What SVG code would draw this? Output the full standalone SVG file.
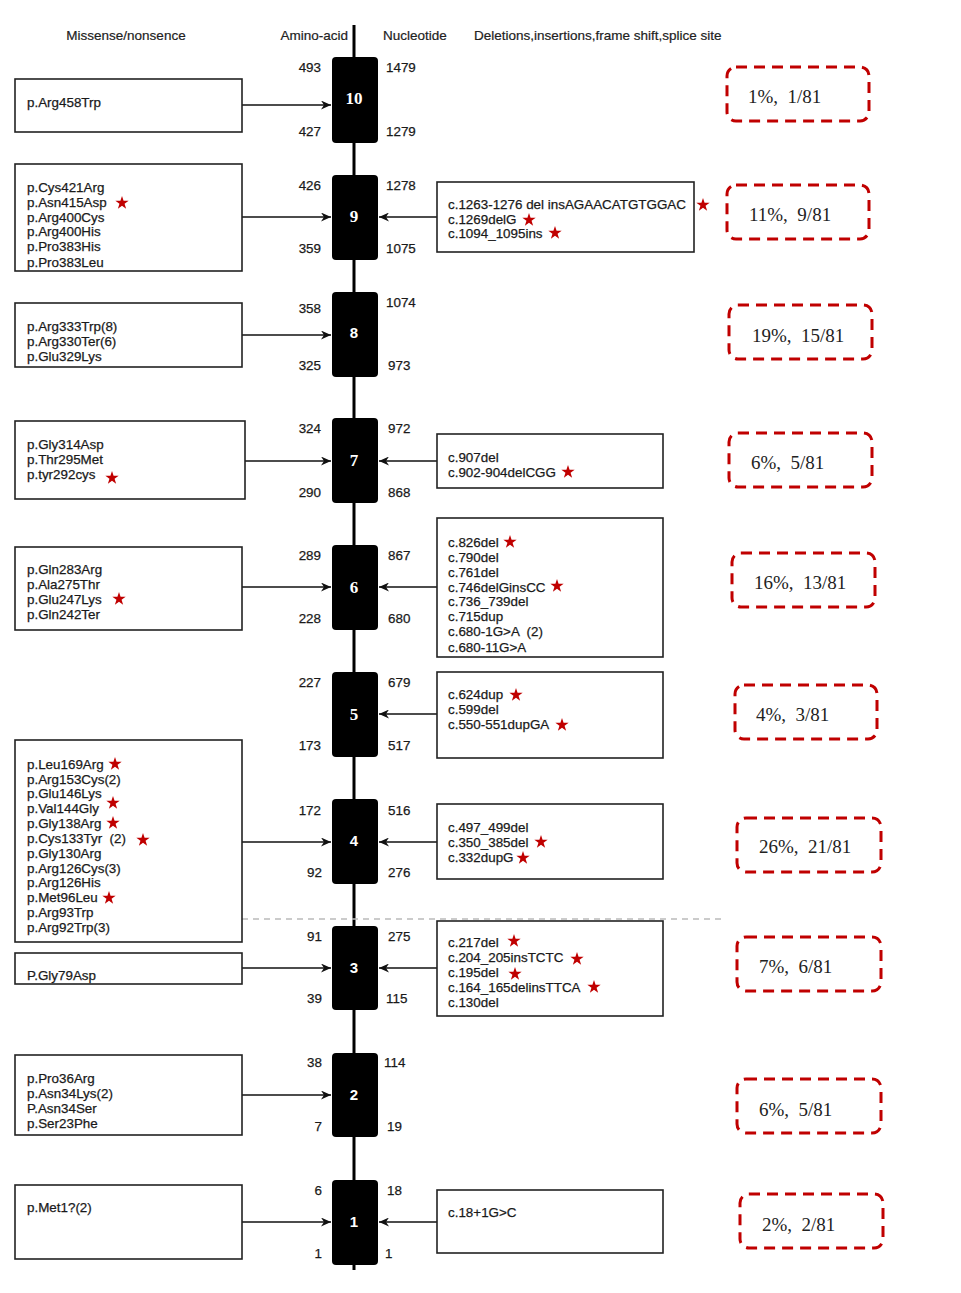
<svg xmlns="http://www.w3.org/2000/svg" width="961" height="1293" viewBox="0 0 961 1293">
<style>
.hdr{font-family:"Liberation Sans",Arial,sans-serif;font-size:13.5px;fill:#222;stroke:#222;stroke-width:0.2}
.t{font-family:"Liberation Sans",Arial,sans-serif;font-size:13.4px;fill:#1a1a1a;stroke:#1a1a1a;stroke-width:0.25}
.num{font-family:"Liberation Sans",Arial,sans-serif;font-size:13.4px;fill:#1a1a1a;stroke:#1a1a1a;stroke-width:0.25}
.r{text-anchor:end}
.box{fill:#fff;stroke:#222;stroke-width:1.6}
.exon{fill:#000}
.el{font-family:"Liberation Serif","Times New Roman",serif;font-size:17px;font-weight:bold;fill:#fff;text-anchor:middle}
.els{font-family:"Liberation Sans",Arial,sans-serif;font-size:15px;font-weight:bold;fill:#fff;text-anchor:middle}
.pct{fill:none;stroke:#c00000;stroke-width:3;stroke-dasharray:11 7}
.pt{font-family:"Liberation Serif","Times New Roman",serif;font-size:19px;fill:#222}
.arr{stroke:#111;stroke-width:1.6;fill:none;marker-end:url(#ah)}
.star{fill:#c00000}
</style>
<defs>
<marker id="ah" markerWidth="11" markerHeight="9" refX="10" refY="4.5" orient="auto" markerUnits="userSpaceOnUse">
<path d="M0,0 L10,4.5 L0,9 L3,4.5 z" fill="#111"/>
</marker>
<path id="st" d="M0,-7 L1.587,-2.184 L6.657,-2.163 L2.568,0.834 L4.114,5.663 L0,2.7 L-4.114,5.663 L-2.568,0.834 L-6.657,-2.163 L-1.587,-2.184 Z"/>
</defs>
<rect width="961" height="1293" fill="#fff"/>

<g id="headers">
<text class="hdr" x="126" y="40" text-anchor="middle">Missense/nonsence</text>
<text class="hdr" x="348" y="40" text-anchor="end">Amino-acid</text>
<text class="hdr" x="383" y="40">Nucleotide</text>
<text class="hdr" x="474" y="40">Deletions,insertions,frame shift,splice site</text>
</g>

<g id="spine">
<line x1="354" y1="25" x2="354" y2="1270" stroke="#000" stroke-width="3"/>
<line x1="242" y1="919" x2="722" y2="919" stroke="#bbb" stroke-width="1.3" stroke-dasharray="6 5"/>
</g>

<g id="connectors">
<line class="arr" x1="242" y1="105" x2="331" y2="105"/>
<line class="arr" x1="242" y1="217" x2="331" y2="217"/>
<line class="arr" x1="437" y1="217" x2="379" y2="217"/>
<line class="arr" x1="242" y1="335" x2="331" y2="335"/>
<line class="arr" x1="245" y1="461" x2="331" y2="461"/>
<line class="arr" x1="437" y1="461" x2="379" y2="461"/>
<line class="arr" x1="242" y1="587" x2="331" y2="587"/>
<line class="arr" x1="437" y1="587" x2="379" y2="587"/>
<line class="arr" x1="437" y1="714" x2="379" y2="714"/>
<line class="arr" x1="242" y1="842" x2="331" y2="842"/>
<line class="arr" x1="437" y1="842" x2="379" y2="842"/>
<line class="arr" x1="242" y1="968" x2="331" y2="968"/>
<line class="arr" x1="437" y1="968" x2="379" y2="968"/>
<line class="arr" x1="242" y1="1095" x2="331" y2="1095"/>
<line class="arr" x1="242" y1="1222" x2="331" y2="1222"/>
<line class="arr" x1="437" y1="1222" x2="379" y2="1222"/>
</g>

<g id="exon10">
<rect class="exon" x="332" y="57" width="46" height="86" rx="4"/>
<text class="el" x="354" y="104">10</text>
<text class="num r" x="321" y="72">493</text><text class="num r" x="321" y="136">427</text>
<text class="num" x="386" y="72">1479</text><text class="num" x="386" y="136">1279</text>
</g>
<g id="exon9">
<rect class="exon" x="332" y="175" width="46" height="85" rx="4"/>
<text class="el" x="354" y="222">9</text>
<text class="num r" x="321" y="190">426</text><text class="num r" x="321" y="253">359</text>
<text class="num" x="386" y="190">1278</text><text class="num" x="386" y="253">1075</text>
</g>
<g id="exon8">
<rect class="exon" x="332" y="292" width="46" height="85" rx="4"/>
<text class="els" x="354" y="338">8</text>
<text class="num r" x="321" y="313">358</text><text class="num r" x="321" y="370">325</text>
<text class="num" x="386" y="307">1074</text><text class="num" x="388" y="370">973</text>
</g>
<g id="exon7">
<rect class="exon" x="332" y="418" width="46" height="85" rx="4"/>
<text class="el" x="354" y="466">7</text>
<text class="num r" x="321" y="433">324</text><text class="num r" x="321" y="497">290</text>
<text class="num" x="388" y="433">972</text><text class="num" x="388" y="497">868</text>
</g>
<g id="exon6">
<rect class="exon" x="332" y="545" width="46" height="85" rx="4"/>
<text class="el" x="354" y="593">6</text>
<text class="num r" x="321" y="560">289</text><text class="num r" x="321" y="623">228</text>
<text class="num" x="388" y="560">867</text><text class="num" x="388" y="623">680</text>
</g>
<g id="exon5">
<rect class="exon" x="332" y="672" width="46" height="85" rx="4"/>
<text class="el" x="354" y="720">5</text>
<text class="num r" x="321" y="687">227</text><text class="num r" x="321" y="750">173</text>
<text class="num" x="388" y="687">679</text><text class="num" x="388" y="750">517</text>
</g>
<g id="exon4">
<rect class="exon" x="332" y="799" width="46" height="85" rx="4"/>
<text class="els" x="354" y="846">4</text>
<text class="num r" x="321" y="815">172</text><text class="num r" x="322" y="877">92</text>
<text class="num" x="388" y="815">516</text><text class="num" x="388" y="877">276</text>
</g>
<g id="exon3">
<rect class="exon" x="332" y="926" width="46" height="84" rx="4"/>
<text class="els" x="354" y="973">3</text>
<text class="num r" x="322" y="941">91</text><text class="num r" x="322" y="1003">39</text>
<text class="num" x="388" y="941">275</text><text class="num" x="386" y="1003">115</text>
</g>
<g id="exon2">
<rect class="exon" x="332" y="1053" width="46" height="84" rx="4"/>
<text class="els" x="354" y="1100">2</text>
<text class="num r" x="322" y="1067">38</text><text class="num r" x="322" y="1131">7</text>
<text class="num" x="384" y="1067">114</text><text class="num" x="387" y="1131">19</text>
</g>
<g id="exon1">
<rect class="exon" x="332" y="1180" width="46" height="85" rx="4"/>
<text class="els" x="354" y="1227">1</text>
<text class="num r" x="322" y="1195">6</text><text class="num r" x="322" y="1258">1</text>
<text class="num" x="387" y="1195">18</text><text class="num" x="385" y="1258">1</text>
</g>

<g id="mis10">
<rect class="box" x="15" y="79" width="227" height="53"/>
<text class="t" x="27" y="107">p.Arg458Trp</text>
</g>
<g id="mis9">
<rect class="box" x="15" y="164" width="227" height="107"/>
<text class="t" x="27" y="192">p.Cys421Arg</text>
<text class="t" x="27" y="207">p.Asn415Asp</text>
<text class="t" x="27" y="222">p.Arg400Cys</text>
<text class="t" x="27" y="236">p.Arg400His</text>
<text class="t" x="27" y="251">p.Pro383His</text>
<text class="t" x="27" y="267">p.Pro383Leu</text>
<use href="#st" class="star" x="122" y="203"/>
</g>
<g id="mis8">
<rect class="box" x="15" y="303" width="227" height="64"/>
<text class="t" x="27" y="331">p.Arg333Trp(8)</text>
<text class="t" x="27" y="346">p.Arg330Ter(6)</text>
<text class="t" x="27" y="361">p.Glu329Lys</text>
</g>
<g id="mis7">
<rect class="box" x="15" y="421" width="230" height="78"/>
<text class="t" x="27" y="449">p.Gly314Asp</text>
<text class="t" x="27" y="464">p.Thr295Met</text>
<text class="t" x="27" y="479">p.tyr292cys</text>
<use href="#st" class="star" x="112" y="478"/>
</g>
<g id="mis6">
<rect class="box" x="15" y="547" width="227" height="83"/>
<text class="t" x="27" y="574">p.Gln283Arg</text>
<text class="t" x="27" y="589">p.Ala275Thr</text>
<text class="t" x="27" y="604">p.Glu247Lys</text>
<text class="t" x="27" y="619">p.Gln242Ter</text>
<use href="#st" class="star" x="119" y="599"/>
</g>
<g id="mis4">
<rect class="box" x="15" y="740" width="227" height="202"/>
<text class="t" x="27" y="769">p.Leu169Arg</text>
<text class="t" x="27" y="784">p.Arg153Cys(2)</text>
<text class="t" x="27" y="798">p.Glu146Lys</text>
<text class="t" x="27" y="813">p.Val144Gly</text>
<text class="t" x="27" y="828">p.Gly138Arg</text>
<text class="t" x="27" y="843" xml:space="preserve">p.Cys133Tyr  (2)</text>
<text class="t" x="27" y="858">p.Gly130Arg</text>
<text class="t" x="27" y="873">p.Arg126Cys(3)</text>
<text class="t" x="27" y="887">p.Arg126His</text>
<text class="t" x="27" y="902">p.Met96Leu</text>
<text class="t" x="27" y="917">p.Arg93Trp</text>
<text class="t" x="27" y="932">p.Arg92Trp(3)</text>
<use href="#st" class="star" x="115" y="764"/>
<use href="#st" class="star" x="113" y="803"/>
<use href="#st" class="star" x="113" y="823"/>
<use href="#st" class="star" x="143" y="840"/>
<use href="#st" class="star" x="109" y="898"/>
</g>
<g id="mis3">
<rect class="box" x="15" y="953" width="227" height="31"/>
<text class="t" x="27" y="980">P.Gly79Asp</text>
</g>
<g id="mis2">
<rect class="box" x="15" y="1055" width="227" height="80"/>
<text class="t" x="27" y="1083">p.Pro36Arg</text>
<text class="t" x="27" y="1098">p.Asn34Lys(2)</text>
<text class="t" x="27" y="1113">P.Asn34Ser</text>
<text class="t" x="27" y="1128">p.Ser23Phe</text>
</g>
<g id="mis1">
<rect class="box" x="15" y="1185" width="227" height="74"/>
<text class="t" x="27" y="1212">p.Met1?(2)</text>
</g>

<g id="del9">
<rect class="box" x="437" y="182" width="257" height="70"/>
<text class="t" x="448" y="209">c.1263-1276 del insAGAACATGTGGAC</text>
<text class="t" x="448" y="224">c.1269delG</text>
<text class="t" x="448" y="238">c.1094_1095ins</text>
<use href="#st" class="star" x="703" y="205"/>
<use href="#st" class="star" x="529" y="220"/>
<use href="#st" class="star" x="555" y="233"/>
</g>
<g id="del7">
<rect class="box" x="437" y="434" width="226" height="54"/>
<text class="t" x="448" y="462">c.907del</text>
<text class="t" x="448" y="477">c.902-904delCGG</text>
<use href="#st" class="star" x="568" y="472"/>
</g>
<g id="del6">
<rect class="box" x="437" y="518" width="226" height="139"/>
<text class="t" x="448" y="547">c.826del</text>
<text class="t" x="448" y="562">c.790del</text>
<text class="t" x="448" y="577">c.761del</text>
<text class="t" x="448" y="592">c.746delGinsCC</text>
<text class="t" x="448" y="606">c.736_739del</text>
<text class="t" x="448" y="621">c.715dup</text>
<text class="t" x="448" y="636" xml:space="preserve">c.680-1G&gt;A  (2)</text>
<text class="t" x="448" y="652">c.680-11G&gt;A</text>
<use href="#st" class="star" x="510" y="542"/>
<use href="#st" class="star" x="557" y="586"/>
</g>
<g id="del5">
<rect class="box" x="437" y="672" width="226" height="86"/>
<text class="t" x="448" y="699">c.624dup</text>
<text class="t" x="448" y="714">c.599del</text>
<text class="t" x="448" y="729">c.550-551dupGA</text>
<use href="#st" class="star" x="516" y="695"/>
<use href="#st" class="star" x="562" y="725"/>
</g>
<g id="del4">
<rect class="box" x="437" y="804" width="226" height="75"/>
<text class="t" x="448" y="832">c.497_499del</text>
<text class="t" x="448" y="847">c.350_385del</text>
<text class="t" x="448" y="862">c.332dupG</text>
<use href="#st" class="star" x="541" y="842"/>
<use href="#st" class="star" x="523" y="858"/>
</g>
<g id="del3">
<rect class="box" x="437" y="921" width="226" height="95"/>
<text class="t" x="448" y="947">c.217del</text>
<text class="t" x="448" y="962">c.204_205insTCTC</text>
<text class="t" x="448" y="977">c.195del</text>
<text class="t" x="448" y="992">c.164_165delinsTTCA</text>
<text class="t" x="448" y="1007">c.130del</text>
<use href="#st" class="star" x="514" y="941"/>
<use href="#st" class="star" x="577" y="959"/>
<use href="#st" class="star" x="515" y="974"/>
<use href="#st" class="star" x="594" y="987"/>
</g>
<g id="del1">
<rect class="box" x="437" y="1190" width="226" height="63"/>
<text class="t" x="448" y="1217">c.18+1G&gt;C</text>
</g>

<g id="pct10"><rect class="pct" x="727" y="67" width="142" height="54" rx="9"/><text class="pt" x="748" y="103" xml:space="preserve">1%,  1/81</text></g>
<g id="pct9"><rect class="pct" x="727" y="185" width="142" height="54" rx="9"/><text class="pt" x="749" y="221" xml:space="preserve">11%,  9/81</text></g>
<g id="pct8"><rect class="pct" x="729" y="305" width="143" height="54" rx="9"/><text class="pt" x="752" y="342" xml:space="preserve">19%,  15/81</text></g>
<g id="pct7"><rect class="pct" x="729" y="433" width="143" height="54" rx="9"/><text class="pt" x="751" y="469" xml:space="preserve">6%,  5/81</text></g>
<g id="pct6"><rect class="pct" x="732" y="553" width="143" height="54" rx="9"/><text class="pt" x="754" y="589" xml:space="preserve">16%,  13/81</text></g>
<g id="pct5"><rect class="pct" x="735" y="685" width="142" height="54" rx="9"/><text class="pt" x="756" y="721" xml:space="preserve">4%,  3/81</text></g>
<g id="pct4"><rect class="pct" x="737" y="818" width="144" height="54" rx="9"/><text class="pt" x="759" y="853" xml:space="preserve">26%,  21/81</text></g>
<g id="pct3"><rect class="pct" x="737" y="937" width="144" height="54" rx="9"/><text class="pt" x="759" y="973" xml:space="preserve">7%,  6/81</text></g>
<g id="pct2"><rect class="pct" x="737" y="1079" width="144" height="54" rx="9"/><text class="pt" x="759" y="1116" xml:space="preserve">6%,  5/81</text></g>
<g id="pct1"><rect class="pct" x="740" y="1194" width="143" height="54" rx="9"/><text class="pt" x="762" y="1231" xml:space="preserve">2%,  2/81</text></g>
</svg>
